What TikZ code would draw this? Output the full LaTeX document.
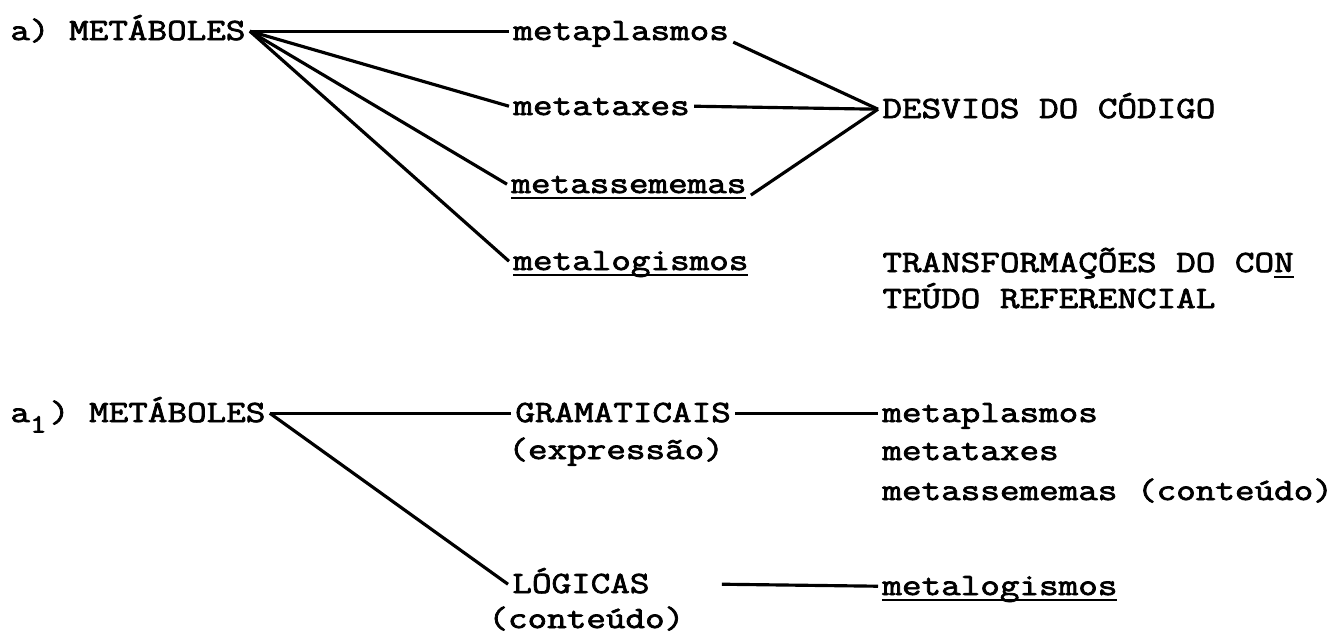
\documentclass[tikz,border=0pt]{standalone}
\usepackage{fontspec}
\setmainfont{Latin Modern Mono}[FakeBold=2.4, FakeStretch=1.23]
\usepackage{tikz}
\newcommand{\undl}[1]{\setbox0\hbox{#1}\rlap{\rule[-3.6pt]{\wd0}{1.2pt}}\box0}

\begin{document}
\begin{tikzpicture}[x=0.02cm, y=-0.02cm,
    word/.style={anchor=base west, inner xsep=2.3pt, inner ysep=0pt,
      text height=11pt, text depth=1pt, font=\fontsize{17.6}{21}\selectfont},
    link/.style={line width=1.8pt}]
  \useasboundingbox (0,0) rectangle (1331,636);
  % a) codes and deviations
  \node[word] (meta) at (6,40) {a) METÁBOLES};
  \node[word] (mpl) at (509,40) {metaplasmos};
  \node[word] (mtx) at (509,115) {metataxes};
  \node[word] (mss) at (507,193) {\undl{metassememas}};
  \node[word] (mlg) at (509,270) {\undl{metalogismos}};
  \node[word] (desv) at (878,118) {DESVIOS DO CÓDIGO};
  \node[word] (transf) at (878,272) {TRANSFORMAÇÕES DO CO\undl{N}};
  \node[word] (teudo) at (878,308) {TEÚDO REFERENCIAL};
  \draw[link] (meta.east) -- (mpl.west);
  \draw[link] (meta.east) -- (mtx.west);
  \draw[link] (meta.east) -- (mss.west);
  \draw[link] (meta.east) -- (mlg.west);
  \draw[link] (mpl.south east) -- (desv.west);
  \draw[link] (mtx.east) -- (desv.west);
  \draw[link] (mss.south east) -- (desv.west);
  % a1) grammatical vs logical
  \node[word] (metb) at (6,422)
    {a\makebox[11.36pt][l]{\raisebox{-6pt}{\fontsize{15}{15}\selectfont 1}})~METÁBOLES};
  \node[word] (gram) at (511,422) {GRAMATICAIS};
  \node[word] (gramx) at (504,459) {(expressão)};
  \node[word] (logi) at (508,593) {LÓGICAS};
  \node[word] (logix) at (484,628) {(conteúdo)};
  \node[word] (gpl) at (878,422) {metaplasmos};
  \node[word] (gtx) at (878,460) {metataxes};
  \node[word] (gss) at (878,500) {metassememas (conteúdo)};
  \node[word] (glg) at (878,595) {\undl{metalogismos}};
  \draw[link] (metb.east) -- (gram.west);
  \draw[link] (metb.east) -- (logi.west);
  \draw[link] (gram.east) -- (gpl.west);
  \draw[link] ([xshift=1.36cm]logi.east) -- (glg.west);
\end{tikzpicture}
\end{document}
